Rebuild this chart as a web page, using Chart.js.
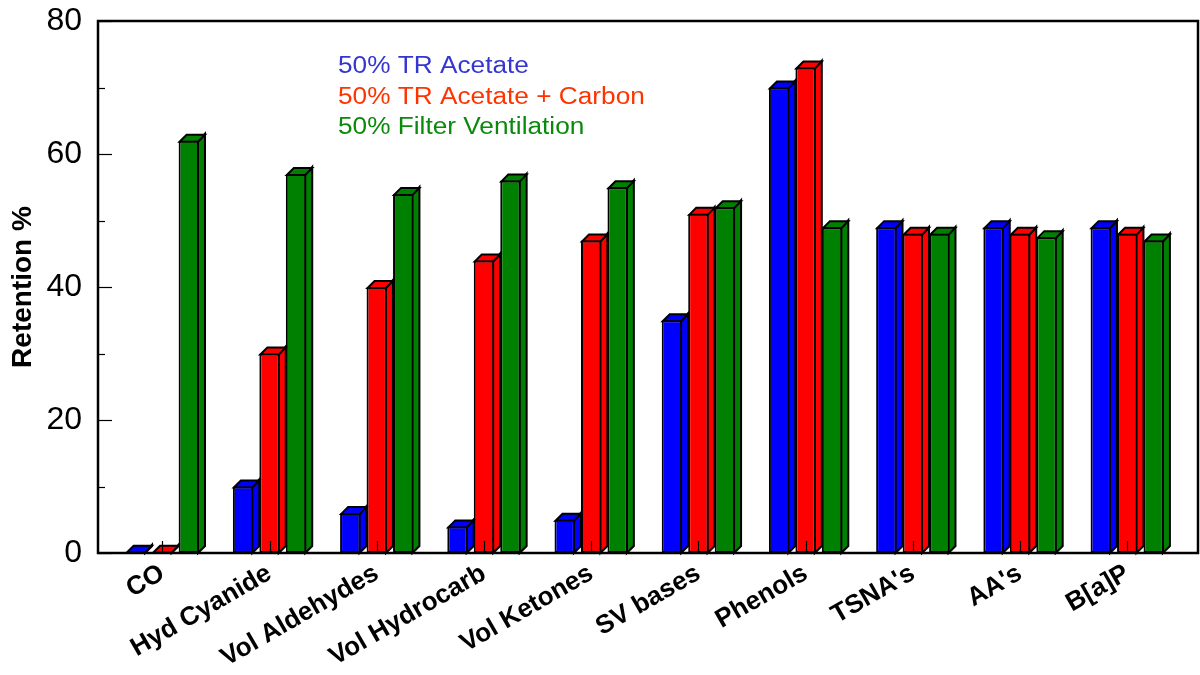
<!DOCTYPE html>
<html><head><meta charset="utf-8">
<script src="https://cdn.jsdelivr.net/npm/chart.js@4/dist/chart.umd.min.js"></script>
<style>html,body{margin:0;padding:0;background:#fff;}#wrap{width:1200px;height:675px;}</style>
</head><body><div id="wrap"><canvas id="c" width="1200" height="675"></canvas></div>
<script>
const categories = ["CO","Hyd Cyanide","Vol Aldehydes","Vol Hydrocarb","Vol Ketones","SV bases","Phenols","TSNA's","AA's","B[a]P"];
const seriesNames = ["50% TR Acetate","50% TR Acetate + Carbon","50% Filter Ventilation"];
const trAcetate = [0.2,10,6,4,5,35,70,49,49,49];
const trAcetateCarbon = [0.2,30,40,44,47,51,73,48,48,48];
const filterVentilation = [62,57,54,56,55,52,49,48,47.5,47];
const yMajorTicks = [0,20,40,60,80];
const yMinorTicks = [10,30,50,70];
const barColors = ["#0000ff","#ff0000","#008000"];
const legendColors = ["#3535d0","#ff3300","#0a8a0a"];

const FONT = "'Liberation Sans', Arial, Helvetica, sans-serif";
const DEPTH = 7;

function pts(arr){ return arr.map((v,i)=>({x:i,y:v})); }

const bar3d = {
  id:'bar3d',
  beforeDatasetsDraw(chart){
    const ctx = chart.ctx;
    chart.data.datasets.forEach((ds,di)=>{
      const meta = chart.getDatasetMeta(di);
      meta.data.forEach(bar=>{
        const p = bar.getProps(['x','y','base','width'], true);
        const l = p.x - p.width/2, r = p.x + p.width/2, y = p.y, b = p.base;
        ctx.save();
        ctx.fillStyle = ds.backgroundColor;
        ctx.strokeStyle = '#000';
        ctx.lineWidth = 2;
        ctx.lineJoin = 'miter';
        ctx.beginPath();
        ctx.moveTo(r-1, b); ctx.lineTo(r-1+DEPTH, b-DEPTH); ctx.lineTo(r-1+DEPTH, y-DEPTH); ctx.lineTo(r-1, y+1);
        ctx.closePath(); ctx.fill(); ctx.stroke();
        ctx.beginPath();
        ctx.moveTo(l+1, y+1); ctx.lineTo(l+1+DEPTH, y+1-DEPTH); ctx.lineTo(r-1+DEPTH, y+1-DEPTH); ctx.lineTo(r-1, y+1);
        ctx.closePath(); ctx.fill(); ctx.stroke();
        ctx.restore();
      });
    });
  },
  afterDatasetsDraw(chart){
    const ctx = chart.ctx, a = chart.chartArea, xs = chart.scales.x, ys = chart.scales.y;
    ctx.save();
    ctx.strokeStyle = '#000';
    ctx.lineWidth = 1.2;
    yMajorTicks.forEach(v=>{ const py = Math.round(ys.getPixelForValue(v))+0.5; ctx.beginPath(); ctx.moveTo(a.left, py); ctx.lineTo(a.left+14, py); ctx.stroke(); });
    yMinorTicks.forEach(v=>{ const py = Math.round(ys.getPixelForValue(v))+0.5; ctx.beginPath(); ctx.moveTo(a.left, py); ctx.lineTo(a.left+7, py); ctx.stroke(); });
    categories.forEach((c,i)=>{ const px = Math.round(xs.getPixelForValue(i))+0.5; ctx.beginPath(); ctx.moveTo(px, a.bottom); ctx.lineTo(px, a.bottom-12); ctx.stroke(); });
    ctx.lineWidth = 2.5;
    ctx.strokeRect(a.left, a.top, a.right-a.left, a.bottom-a.top);
    ctx.restore();
  },
  afterDraw(chart){
    const ctx = chart.ctx;
    ctx.save();
    ctx.font = "23px " + FONT;
    ctx.textBaseline = 'alphabetic';
    ctx.textAlign = 'left';
    const baselines = [73, 104, 134];
    seriesNames.forEach((n,i)=>{
      ctx.save();
      ctx.translate(338, baselines[i]);
      ctx.scale(1.14, 1);
      ctx.fillStyle = legendColors[i];
      ctx.fillText(n, 0, 0);
      ctx.restore();
    });
    ctx.restore();
  }
};

new Chart(document.getElementById('c'), {
  type:'bar',
  data:{
    datasets:[
      {label:seriesNames[0], data:pts(trAcetate), backgroundColor:barColors[0], borderColor:'#000', borderWidth:2, borderSkipped:false},
      {label:seriesNames[1], data:pts(trAcetateCarbon), backgroundColor:barColors[1], borderColor:'#000', borderWidth:2, borderSkipped:false},
      {label:seriesNames[2], data:pts(filterVentilation), backgroundColor:barColors[2], borderColor:'#000', borderWidth:2, borderSkipped:false}
    ]
  },
  options:{
    responsive:false, animation:false, devicePixelRatio:1,
    categoryPercentage:0.741, barPercentage:0.77,
    layout:{padding:{top:21,right:2,left:0,bottom:0}},
    plugins:{legend:{display:false}, tooltip:{enabled:false}},
    scales:{
      x:{
        type:'linear', min:-0.6, max:9.66, offset:false,
        grid:{display:false, drawTicks:false}, border:{display:false},
        afterBuildTicks:(s)=>{ s.ticks = categories.map((c,i)=>({value:i})); },
        ticks:{autoSkip:false, maxRotation:30, minRotation:30, padding:5, color:'#000',
          font:{family:FONT, size:26, weight:'bold'},
          callback:(v)=>categories[Math.round(v)] ?? ''},
        afterFit:(s)=>{ s.height = 122; s.paddingLeft = 0; s.paddingRight = 0; }
      },
      y:{
        min:0, max:80,
        grid:{display:false, drawTicks:false}, border:{display:false},
        afterBuildTicks:(s)=>{ s.ticks = yMajorTicks.map(v=>({value:v})); },
        ticks:{padding:16, color:'#000', font:{family:FONT, size:32}},
        title:{display:true, text:'Retention %', color:'#000', font:{family:FONT, size:28, weight:'bold'}, padding:{top:6,bottom:0}},
        afterFit:(s)=>{ s.width = 98; s.paddingTop = 0; s.paddingBottom = 0; }
      }
    }
  },
  plugins:[bar3d]
});
</script>
</body></html>
